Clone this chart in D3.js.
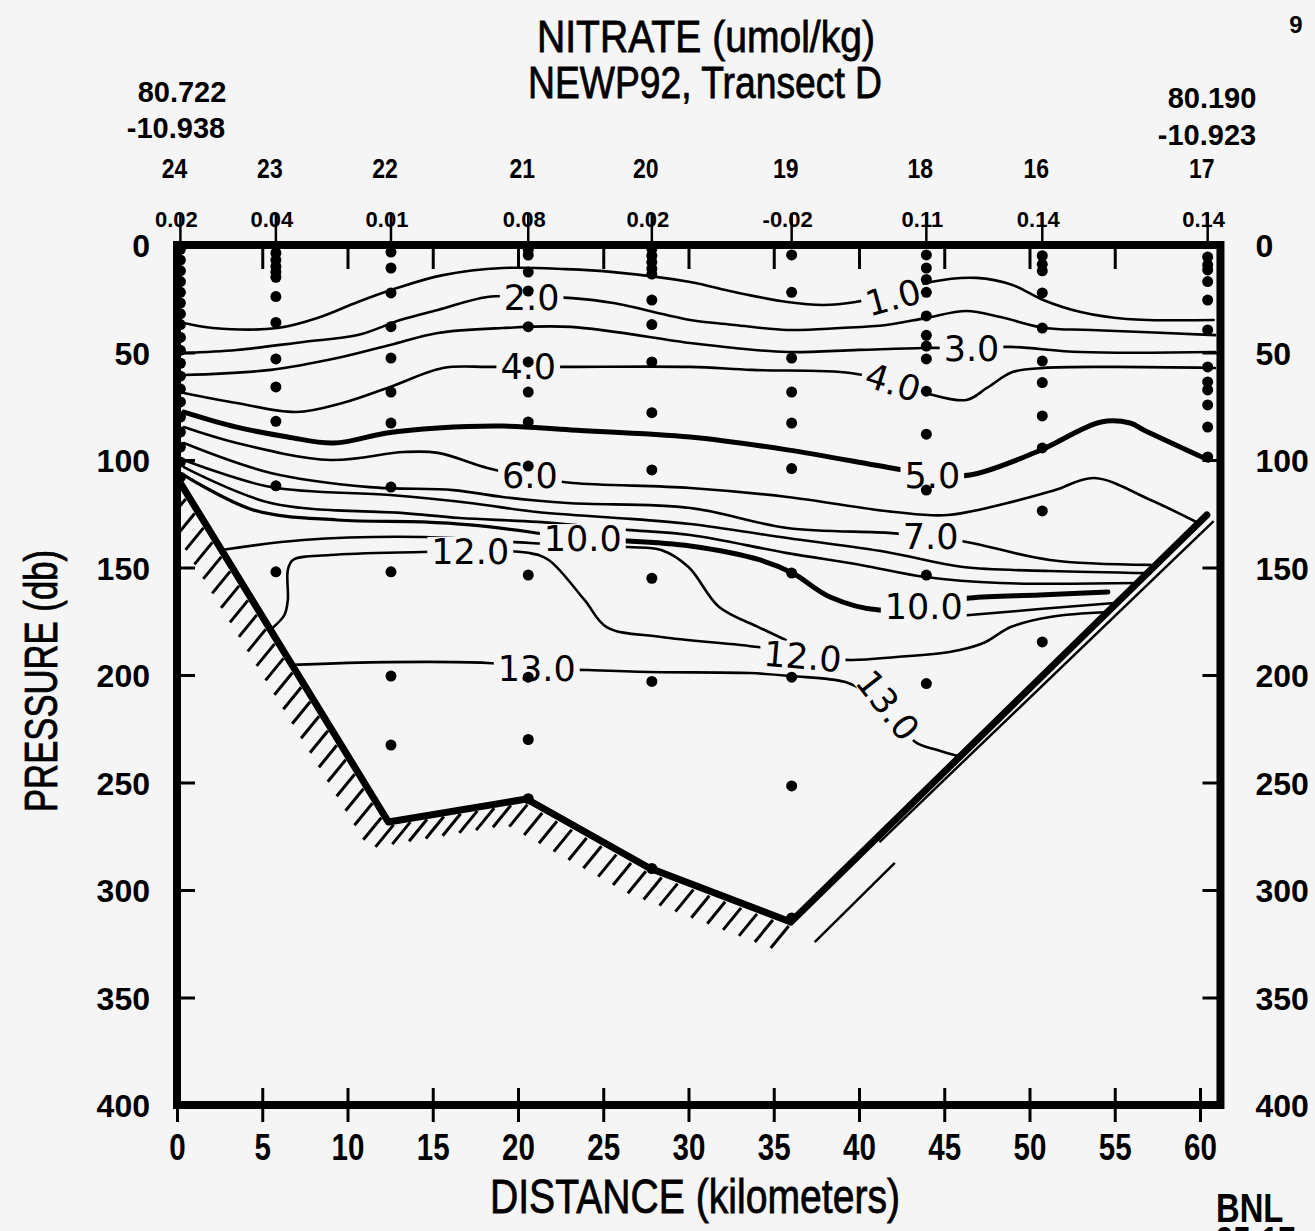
<!DOCTYPE html>
<html lang="en">
<head>
<meta charset="UTF-8">
<title>Nitrate - NEWP92 Transect D</title>
<style>
  body { margin: 0; background: #f5f5f5; }
  svg { display: block; }
</style>
</head>
<body>
<svg id="chart" width="1315" height="1231"></svg>
<script src="https://cdn.jsdelivr.net/npm/d3@7"></script>
<script>
// stations along the transect, distance in km from station 24
var stationIds = ["24", "23", "22", "21", "20", "19", "18", "16", "17"];
var stationKm = [0.2, 5.8, 12.55, 20.6, 27.85, 36.05, 43.95, 50.75, 60.45];
var stationTop = ["0.02", "0.04", "0.01", "0.08", "0.02", "-0.02", "0.11", "0.14", "0.14"];

// bottle depths (db) per station
var samples24 = [2, 7, 12, 17, 22, 27, 32, 37, 43, 49, 55, 61, 67, 73, 80, 87, 94, 101, 108];
var samples23 = [3.7, 7, 10, 12.5, 15, 24, 36, 53, 66, 82, 112, 152];
var samples22 = [3.3, 10.7, 22.3, 38, 52.6, 68.4, 82.8, 112.6, 152, 200.5, 232.6];
var samples21 = [2.3, 4.7, 12.6, 21.4, 38, 54.4, 68.4, 82.3, 102.8, 153.5, 201, 230, 257.5];
var samples20 = [2, 5, 8, 11, 13.5, 25.6, 37, 54.4, 78, 104.6, 155, 203, 290];
var samples19 = [4.6, 22, 52.6, 68.4, 82.8, 104, 152.6, 201, 251.6, 313];
var samples18 = [4.6, 10.7, 16, 22, 33, 42, 47, 53, 68, 88, 114, 153.5, 204];
var samples16 = [5, 9, 12, 22.3, 38.6, 54, 64, 79.5, 94.4, 123.7, 184.6];
var samples17 = [5.6, 9.3, 11.6, 17, 25.6, 39.5, 56.7, 63.7, 67.4, 74.4, 84.7, 98.6];
var sampleDepths = [samples24, samples23, samples22, samples21, samples20, samples19, samples18, samples16, samples17];

// hand drawn isolines, [km, db]
var contour1 = [[0.4,36.3],[2.1,38.6],[5.9,38.6],[8.4,33.5],[10.6,26.5],[12.9,20.0],[15.6,14.0],[19.1,10.7],[22.8,11.2],[25.6,12.6],[30.1,17.2],[32.7,21.9],[35.8,26.5],[37.9,27.9],[39.8,26.5],[42.0,22.5],[44.2,17.2],[46.9,15.3],[49.0,18.6],[50.8,25.6],[53.0,31.2],[55.7,34.4],[60.8,34.9]];
var contour2 = [[0.4,50.2],[3.5,48.8],[7.4,45.1],[10.6,41.9],[13.1,34.9],[15.3,30.2],[18.2,24.2],[20.7,24.0],[23.2,24.7],[25.6,27.0],[30.1,34.9],[32.7,37.2],[35.8,39.5],[38.9,38.6],[41.6,37.2],[43.9,34.0],[46.3,30.7],[48.3,33.5],[50.9,38.6],[53.6,39.5],[60.9,41.9]];
var contour3 = [[0.4,60.5],[5.5,58.1],[9.4,52.6],[12.5,46.5],[15.3,40.9],[19.1,38.6],[23.1,38.1],[30.1,45.6],[32.7,47.9],[35.8,49.8],[40.0,48.8],[43.8,47.9],[46.6,47.9],[48.9,47.4],[53.0,49.8],[60.9,49.8]];
var contour4 = [[0.4,68.8],[3.5,73.5],[7.0,77.7],[9.7,73.5],[12.5,66.0],[15.6,57.2],[18.2,56.7],[20.6,56.7],[23.2,56.7],[30.1,56.7],[33.7,58.1],[39.5,59.5],[41.9,63.7],[43.9,68.8],[46.3,72.1],[47.5,66.5],[49.0,59.1],[50.8,57.2],[54.7,56.7],[60.9,57.2]];
var contour5 = [[0.4,77.7],[3.5,84.7],[6.5,89.3],[9.2,92.1],[12.3,87.4],[15.3,85.1],[19.1,84.2],[23.1,86.0],[30.1,89.3],[35.8,95.3],[41.9,103.7],[44.2,106.5],[46.5,107.0],[50.4,96.3],[54.2,82.3],[55.9,82.8],[56.7,86.0],[60.5,100.0]];
var contour6 = [[0.4,84.7],[3.5,92.1],[9.0,100.0],[13.3,96.3],[15.3,96.7],[18.2,103.7],[20.7,107.9],[23.2,110.7],[30.1,113.0],[35.8,117.2],[42.1,124.2],[45.2,125.6],[49.4,118.6],[51.5,114.0],[53.8,108.4],[57.1,118.6],[59.9,129.3]];
var contour7 = [[0.4,92.1],[5.5,106.0],[11.3,112.6],[16.2,114.0],[19.1,117.2],[22.9,120.0],[30.1,122.3],[35.8,131.6],[41.9,134.0],[44.2,136.0],[46.3,138.1],[51.2,146.5],[57.1,148.8]];
var contour8 = [[0.4,100.0],[5.5,112.6],[12.5,116.3],[17.2,120.0],[21.1,124.2],[26.6,127.4],[30.1,129.8],[35.8,136.3],[41.6,142.8],[46.1,149.8],[51.2,151.6],[57.1,152.6]];
var contour9 = [[0.4,103.3],[5.5,120.0],[13.3,124.7],[16.6,127.0],[21.1,128.8],[26.6,132.6],[30.1,134.9],[35.8,143.3],[40.1,148.8],[43.9,154.4],[48.3,157.2],[56.4,157.2]];
var contour10a = [[0.4,107.0],[4.5,123.3],[9.4,127.9],[14.4,128.8],[17.2,130.2],[20.7,133.5],[23.8,137.2]];
var contour10b = [[23.8,137.2],[26.4,137.7],[30.1,140.0],[34.2,146.5],[36.1,152.6],[38.3,163.7],[41.2,169.8],[43.9,167.4],[46.5,164.2],[50.6,162.8],[54.6,161.4]];
var contour11a = [[2.6,141.9],[7.4,137.2],[14.5,135.8],[20.7,138.6],[26.4,140.5],[28.4,141.9],[30.0,149.8],[31.8,168.4],[34.1,177.7],[35.7,183.7]];
var contour11b = [[44.8,173.0],[46.5,172.1],[50.6,169.3],[55.0,166.5]];
var contour12 = [[5.6,178.1],[6.3,172.1],[6.5,165.1],[6.5,151.2],[6.8,146.5],[9.0,144.2],[14.4,142.8],[17.2,142.3],[20.7,143.3],[21.8,146.5],[23.9,165.1],[25.2,177.7],[28.4,182.3],[34.1,187.0],[36.7,190.7],[39.5,193.0],[42.2,191.6],[45.3,189.3],[47.3,185.1],[48.9,177.7],[51.2,173.0],[54.7,170.7]];
var contour13 = [[6.7,195.3],[12.4,194.0],[18.2,194.4],[21.1,196.7],[24.1,197.7],[27.7,198.6],[33.6,199.1],[36.0,200.5],[39.2,203.3],[40.7,209.3],[41.7,214.0],[42.4,220.9],[43.3,231.2],[44.6,234.9],[45.8,237.7]];

var contourPaths = [contour1, contour2, contour3, contour4, contour5, contour6, contour7, contour8, contour9, contour10a, contour10b, contour11a, contour11b, contour12, contour13];
// pen weight per path: 5.0 and the right part of 10.0 are drawn heavy
var contourWeight = [2.6, 2.6, 2.6, 2.6, 5, 2.6, 2.6, 2.6, 2.6, 3.2, 5, 2.6, 2.6, 2.6, 2.6];

// isoline labels
var labelText = ["1.0", "2.0", "3.0", "4.0", "4.0", "5.0", "6.0", "7.0", "10.0", "10.0", "12.0", "12.0", "13.0", "13.0"];
var labelKm = [42.0, 20.8, 46.6, 20.6, 42.0, 44.3, 20.7, 44.2, 23.8, 43.8, 17.2, 36.7, 21.1, 41.7];
var labelDb = [24.2, 24.2, 47.9, 56.3, 63.7, 107.0, 107.0, 135.3, 136.3, 167.9, 142.3, 191.2, 196.7, 214.0];
var labelRot = [-15, 0, 0, 0, 18, 0, 0, 0, 0, 0, 0, 5, 0, 52];

// bottom profile and shelf slope
var bottomProfile = [[0.2,110.7],[12.4,268.4],[20.5,257.7],[27.7,289.8],[36.0,314.9]];
var slopeThick = [[36.0,314.9],[60.4,125.6]];
var slopeThin = [[41.2,277.7],[60.8,128.4]];
var slopeExtra = [[37.4,324.2],[42.1,287.4]];

var xTicks = [0, 5, 10, 15, 20, 25, 30, 35, 40, 45, 50, 55, 60];
var yTicks = [0, 50, 100, 150, 200, 250, 300, 350, 400];

var bg = "#f5f5f5";
var svg = d3.select("#chart");
svg.append("rect").attr("width", 1315).attr("height", 1231).attr("fill", bg);

var x = d3.scaleLinear().domain([0, 60]).range([177, 1200]);
var y = d3.scaleLinear().domain([0, 400]).range([245, 1105]);
var xRight = x(61.2);

// narrow font check
function hasFont(name) {
    var c = document.createElement("canvas").getContext("2d");
    var s = "NITRATE 0123456789 kilometers";
    c.font = "40px monospace";
    var a = c.measureText(s).width;
    c.font = "40px '" + name + "', monospace";
    return c.measureText(s).width !== a;
}
var narrow = hasFont("Liberation Sans Narrow");
function narrowText(sel, weight) {
    sel.attr("font-family", narrow ? "'Liberation Sans Narrow', sans-serif" : "'Liberation Sans', sans-serif")
        .attr("font-weight", weight || "normal");
    if (!narrow) {
        sel.each(function () {
            var w = this.getComputedTextLength();
            d3.select(this).attr("textLength", w * 0.82).attr("lengthAdjust", "spacingAndGlyphs");
        });
    }
}

svg.append("defs").append("clipPath").attr("id", "plot")
    .append("rect").attr("x", 181).attr("y", 249).attr("width", xRight - 185).attr("height", 852);

var line = d3.line()
    .x(function (d) { return x(d[0]); })
    .y(function (d) { return y(d[1]); })
    .curve(d3.curveCatmullRom.alpha(0.5));

var straight = d3.line()
    .x(function (d) { return x(d[0]); })
    .y(function (d) { return y(d[1]); });

var plot = svg.append("g").attr("clip-path", "url(#plot)");

// contours
plot.append("g").selectAll("path")
    .data(contourPaths)
    .enter().append("path")
    .attr("d", line)
    .attr("fill", "none")
    .attr("stroke", "#000")
    .attr("stroke-linecap", "round")
    .attr("stroke-width", function (d, i) { return contourWeight[i]; });

// labels with a gap behind them
var fs = 35;
var lab = plot.append("g");
labelText.forEach(function (t, i) {
    var g = lab.append("g")
        .attr("transform", "translate(" + x(labelKm[i]) + "," + y(labelDb[i]) + ") rotate(" + labelRot[i] + ")");
    var r = g.append("rect").attr("fill", bg);
    var txt = g.append("text")
        .attr("text-anchor", "middle")
        .attr("y", fs * 0.365)
        .attr("font-family", "'DejaVu Sans', sans-serif")
        .attr("font-size", fs)
        .attr("fill", "#000")
        .text(t);
    var w = txt.node().getComputedTextLength();
    r.attr("x", -w / 2 - 4).attr("y", -fs * 0.4).attr("width", w + 8).attr("height", fs * 0.8);
});

// sample dots
var dots = [];
sampleDepths.forEach(function (arr, i) {
    arr.forEach(function (p) { dots.push([stationKm[i], p]); });
});
plot.append("g").selectAll("circle")
    .data(dots)
    .enter().append("circle")
    .attr("cx", function (d) { return x(d[0]); })
    .attr("cy", function (d) { return y(d[1]); })
    .attr("r", 5.5)
    .attr("fill", "#000");

// bottom with hatching
var bottomPath = plot.append("path")
    .attr("d", straight(bottomProfile))
    .attr("fill", "none")
    .attr("stroke", "#000")
    .attr("stroke-width", 7)
    .attr("stroke-linejoin", "round");

var node = bottomPath.node();
var total = node.getTotalLength();
var hatch = [];
for (var s = 14; s < total + 4; s += 17) {
    var p = node.getPointAtLength(Math.min(s, total));
    hatch.push([p.x - 2, p.y + 4, p.x - 20, p.y + 26]);
}
plot.append("g").selectAll("line")
    .data(hatch)
    .enter().append("line")
    .attr("x1", function (d) { return d[0]; })
    .attr("y1", function (d) { return d[1]; })
    .attr("x2", function (d) { return d[2]; })
    .attr("y2", function (d) { return d[3]; })
    .attr("stroke", "#000")
    .attr("stroke-width", 3);

plot.append("path").attr("d", straight(slopeThick))
    .attr("fill", "none").attr("stroke", "#000").attr("stroke-width", 7).attr("stroke-linecap", "round");
plot.append("path").attr("d", straight(slopeThin))
    .attr("fill", "none").attr("stroke", "#000").attr("stroke-width", 2.5);
plot.append("path").attr("d", straight(slopeExtra))
    .attr("fill", "none").attr("stroke", "#000").attr("stroke-width", 2.5);

// axes
var gBottom = svg.append("g").attr("transform", "translate(0,1088)")
    .call(d3.axisBottom(x).tickValues(xTicks).tickSize(34).tickPadding(12));
var gLeft = svg.append("g").attr("transform", "translate(177,0)")
    .call(d3.axisLeft(y).tickValues(yTicks).tickSize(-18).tickPadding(27));
var gRight = svg.append("g").attr("transform", "translate(" + xRight + ",0)")
    .call(d3.axisRight(y).tickValues(yTicks).tickSize(-18).tickPadding(35));
var gTop = svg.append("g").attr("transform", "translate(0,245)")
    .call(d3.axisTop(x).tickValues(xTicks.slice(1, 12)).tickSize(-24).tickFormat(""));

[gBottom, gLeft, gRight, gTop].forEach(function (g) {
    g.select(".domain").remove();
    g.selectAll(".tick line").attr("stroke", "#000").attr("stroke-width", 3);
});
gBottom.selectAll("text").attr("font-size", 36).attr("fill", "#000");
narrowText(gBottom.selectAll("text"), "bold");
[gLeft, gRight].forEach(function (g) {
    g.selectAll("text")
        .attr("font-family", "'Liberation Sans', sans-serif")
        .attr("font-weight", "bold")
        .attr("font-size", 32)
        .attr("dy", "0.36em")
        .attr("fill", "#000");
});

// frame
svg.append("rect")
    .attr("x", x(0)).attr("y", y(0))
    .attr("width", xRight - x(0)).attr("height", y(400) - y(0))
    .attr("fill", "none").attr("stroke", "#000").attr("stroke-width", 8);

// station header
var head = svg.append("g");
stationKm.forEach(function (k, i) {
    var sx = x(k);
    head.append("text").attr("x", sx - 6).attr("y", 178)
        .attr("text-anchor", "middle").attr("font-size", 28).attr("fill", "#000")
        .text(stationIds[i]);
    head.append("text").attr("x", sx - 4).attr("y", 227)
        .attr("text-anchor", "middle").attr("font-size", 22).attr("fill", "#000")
        .attr("font-family", "'Liberation Sans', sans-serif").attr("font-weight", "bold")
        .text(stationTop[i]);
    head.append("line").attr("x1", sx).attr("x2", sx).attr("y1", 213).attr("y2", 245)
        .attr("stroke", "#000").attr("stroke-width", 2.5);
});
narrowText(head.selectAll("text").filter(function (d, i) { return i % 2 === 0; }), "bold");

// end positions
var pos = [["80.722", 182, 102], ["-10.938", 176, 138], ["80.190", 1212, 108], ["-10.923", 1207, 145], ["9", 1296, 33]];
pos.forEach(function (p, i) {
    svg.append("text").attr("x", p[1]).attr("y", p[2])
        .attr("text-anchor", "middle")
        .attr("font-family", "'Liberation Sans', sans-serif").attr("font-weight", "bold")
        .attr("font-size", i === 4 ? 24 : 29).attr("fill", "#000")
        .text(p[0]);
});

// titles
function title(t, tx, ty, len, size, rot) {
    return svg.append("text")
        .attr("transform", "translate(" + tx + "," + ty + ")" + (rot ? " rotate(" + rot + ")" : ""))
        .attr("text-anchor", "middle")
        .attr("font-family", narrow ? "'Liberation Sans Narrow', sans-serif" : "'Liberation Sans', sans-serif")
        .attr("font-size", size)
        .attr("fill", "#000").attr("stroke", "#000").attr("stroke-width", 0.8)
        .attr("textLength", len).attr("lengthAdjust", "spacingAndGlyphs")
        .text(t);
}
title("NITRATE (umol/kg)", 706, 52, 338, 44);
title("NEWP92, Transect D", 705, 98, 354, 44);
title("DISTANCE (kilometers)", 695, 1213, 410, 48);
title("PRESSURE (db)", 57, 681, 262, 46, -90);

var bnl = svg.append("text").attr("x", 1216).attr("y", 1222)
    .attr("font-size", 40).attr("fill", "#000").text("BNL");
narrowText(bnl, "bold");
var code = svg.append("text").attr("x", 1216).attr("y", 1254)
    .attr("font-size", 38).attr("fill", "#000").text("95-17");
narrowText(code, "bold");
</script>
</body>
</html>
